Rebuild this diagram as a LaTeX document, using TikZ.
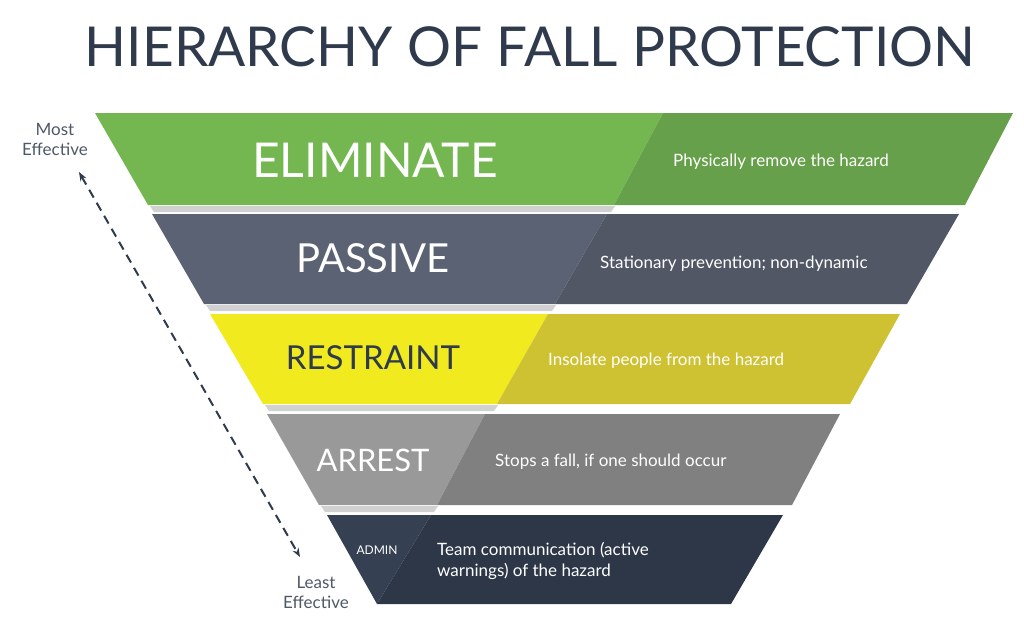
\documentclass[tikz,border=0pt]{standalone}
\usepackage{fontspec}
\setmainfont{Lato}
\usetikzlibrary{positioning,arrows.meta}
\definecolor{navy}{HTML}{2F3B4C}
\definecolor{elimL}{HTML}{74B64F}
\definecolor{elimR}{HTML}{66A04A}
\definecolor{passL}{HTML}{5A6273}
\definecolor{passR}{HTML}{525766}
\definecolor{restL}{HTML}{F0EA1E}
\definecolor{restR}{HTML}{CEC233}
\definecolor{arrL}{HTML}{999999}
\definecolor{arrR}{HTML}{808080}
\definecolor{admL}{HTML}{354052}
\definecolor{admR}{HTML}{2D3748}
\tikzset{
  lvl/.style={text=white, inner sep=0pt},
  desc/.style={text=white, anchor=west, font=\fontsize{17}{21}\selectfont, align=left, inner sep=0pt},
  side/.style={text=navy!85, font=\fontsize{17}{20}\selectfont, align=center, inner sep=0pt},
  shade/.style={fill=black!18}
}
\begin{document}
\begin{tikzpicture}[x=1pt,y=-1pt]
	\useasboundingbox (0,0) rectangle (1024,633);
	\node[text=navy, font=\fontsize{55}{60}\selectfont] (title) at (530,47) {HIERARCHY OF FALL PROTECTION};
	% bands
	\fill[shade] (150,206) -- (615,206) -- (611,212) -- (154,212) -- cycle;
	\fill[elimL] (95,113) -- (663,113) -- (614,205) -- (148,205) -- cycle;
	\fill[elimR] (663,113) -- (1013,113) -- (965,205) -- (614,205) -- cycle;
	\fill[shade] (206,305) -- (556,305) -- (552,311) -- (210,311) -- cycle;
	\fill[passL] (152,214) -- (607,214) -- (555,304) -- (204,304) -- cycle;
	\fill[passR] (607,214) -- (959,214) -- (907,304) -- (555,304) -- cycle;
	\fill[shade] (265,405) -- (498,405) -- (494,411) -- (269,411) -- cycle;
	\fill[restL] (210,314) -- (548,314) -- (497,404) -- (263,404) -- cycle;
	\fill[restR] (548,314) -- (900,314) -- (850,404) -- (497,404) -- cycle;
	\fill[shade] (321,506) -- (438,506) -- (434,512) -- (325,512) -- cycle;
	\fill[arrL] (267,414) -- (485,414) -- (437,505) -- (319,505) -- cycle;
	\fill[arrR] (485,414) -- (840,414) -- (792,505) -- (437,505) -- cycle;
	\fill[admL] (327,515) -- (431,515) -- (377,604) -- cycle;
	\fill[admR] (431,515) -- (783,515) -- (731,604) -- (377,604) -- cycle;
	% level names
	\node[lvl, font=\fontsize{48}{50}\selectfont] (elim) at (375,160) {ELIMINATE};
	\node[lvl, font=\fontsize{40}{44}\selectfont] (pass) at (373,258) {PASSIVE};
	\node[lvl, text=navy, font=\fontsize{33}{36}\selectfont] (rest) at (373,358) {RESTRAINT};
	\node[lvl, font=\fontsize{31}{34}\selectfont] (arr) at (373,460) {ARREST};
	\node[lvl, font=\fontsize{12}{14}\selectfont] (adm) at (377,550) {ADMIN};
	% descriptions
	\node[desc] (elimd) at (673,162) {Physically remove the hazard};
	\node[desc] (passd) at (600,264) {Stationary prevention; non-dynamic};
	\node[desc] (restd) at (548,361) {Insolate people from the hazard};
	\node[desc] (arrd) at (495,462) {Stops a fall, if one should occur};
	\node[desc] (admd) at (437,561) {Team communication (active\\warnings) of the hazard};
	% effectiveness
	\node[side] (most) at (55,139) {Most\\Effective};
	\node[side] (least) at (316,592) {Least\\Effective};
	\draw[navy, line width=2pt, dash pattern=on 9pt off 6pt, {Stealth[length=9pt]}-{Stealth[length=9pt]}]
		(79,172) -- (300,557);
\end{tikzpicture}
\end{document}
